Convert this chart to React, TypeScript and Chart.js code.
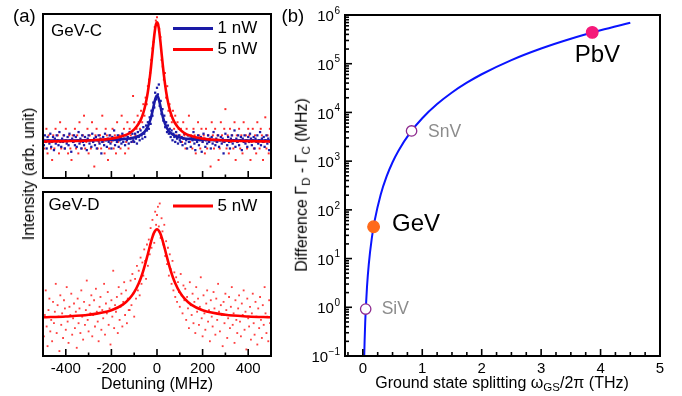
import React, { useEffect, useRef } from 'react';
import { Chart, registerables } from 'chart.js';
Chart.register(...registerables);

const FONT = '"Liberation Sans", Arial, Helvetica, sans-serif';

// ---------- Panel (a): detuning sweeps (MHz), intensity in arb. units ----------
const detuningStartMHz = -500;
const stepGevC5nW = 5;
const stepGevC1nW = 4;
const stepGevD5nW = 4;

const gevC5nWDots = [
  26, 18, 22, 30, 15, 26, 22, 18, 11, 26,
  18, 30, 22, 26, 15, 34, 18, 22, 26, 18,
  30, 22, 15, 26, 18, 11, 26, 22, 30, 18,
  26, 15, 34, 22, 18, 26, 38, 18, 22, 30,
  15, 26, 18, 34, 22, 7, 26, 30, 18, 22,
  26, 18, 38, 22, 15, 30, 26, 11, 18, 26,
  22, 30, 18, 26, 15, 34, 22, 26, 18, 38,
  26, 30, 15, 22, 34, 18, 30, 26, 22, 50,
  34, 26, 30, 38, 34, 30, 41, 34, 45, 38,
  49, 45, 56, 60, 64, 72, 79, 83, 92, 96,
  98,
  94, 91, 86, 72, 68, 60, 64, 49, 56, 41,
  45, 38, 34, 41, 30, 38, 26, 34, 30, 26,
  30, 22, 34, 26, 18, 30, 26, 38, 22, 26,
  18, 30, 26, 15, 22, 34, 26, 18, 30, 22,
  26, 15, 30, 18, 26, 22, 7, 34, 26, 18,
  30, 22, 26, 11, 18, 34, 26, 22, 30, 42,
  18, 26, 15, 30, 22, 26, 18, 34, 11, 26,
  22, 30, 18, 26, 15, 34, 22, 26, 18, 30,
  26, 11, 22, 30, 18, 26, 15, 34, 22, 18,
  30, 26, 11, 22, 37, 18, 26, 15, 30, 22,
];

const gevC1nWDots = [
  24, 20, 26, 22, 18, 25, 23, 21, 27, 19,
  22, 25, 17, 24, 21, 26, 23, 20, 28, 22,
  19, 24, 22, 26, 18, 23, 21, 25, 20, 27,
  23, 16, 24, 22, 26, 20, 25, 19, 23, 28,
  21, 24, 18, 26, 22, 20, 25, 23, 17, 24,
  26, 21, 23, 19, 27, 22, 24, 20, 25, 18,
  23, 26, 21, 24, 15, 22, 25, 20, 27, 23,
  19, 24, 22, 26, 21, 18, 25, 23, 29, 20,
  24, 22, 26, 19, 23, 25, 21, 27, 22, 24,
  20, 26, 23, 25, 21, 28, 24, 22, 27, 23,
  22, 27, 24, 21, 28, 25, 23, 29, 26, 24,
  31, 27, 25, 32, 29, 34, 30, 37, 33, 41,
  38, 46, 43, 52, 48,
  55,
  51, 57, 44, 47, 39, 42, 35, 38, 31, 34,
  28, 32, 27, 30, 25, 29, 23, 27, 25, 22,
  28, 24, 21, 26, 23,
  22, 25, 20, 24, 27, 21, 23, 18, 26, 22,
  24, 19, 25, 23, 28, 21, 17, 24, 22, 26,
  20, 23, 25, 16, 22, 27, 24, 19, 23, 21,
  26, 22, 24, 18, 25, 21, 28, 23, 20, 24,
  22, 26, 19, 23, 25, 21, 24, 15, 22, 27,
  23, 20, 25, 22, 18, 24, 26, 21, 23, 29,
  19, 24, 22, 26, 20, 23, 25, 17, 24, 22,
  26, 21, 23, 19, 25, 22, 27, 24, 20, 23,
  25, 18, 24, 22, 26, 21, 23, 28, 20, 24,
  22, 25, 19, 23, 26, 21, 24, 17, 22, 25,
];

const gevD5nWDots = [
  30, 12, 25, 40, 18, 6, 28, 35, 15, 22,
  9, 33, 20, 27, 44, 14, 31, 24, 3, 37,
  19, 26, 11, 34, 29, 16, 42, 21, 8, 30,
  25, 38, 13, 23, 32, 17, 27, 5, 35, 20,
  29, 14, 40, 24, 10, 33, 19, 28, 46, 22,
  15, 31, 26, 37, 12, 25, 34, 18, 41, 27,
  21, 9, 30, 36, 16, 28, 23, 44, 13, 32,
  26, 39, 19, 29, 7, 34, 24, 52, 17, 31,
  27, 36, 14, 42, 22, 30, 38, 18, 33, 45,
  25, 40, 20, 35, 28,
  28, 46, 31, 50, 38, 24, 47, 35, 55, 40,
  52, 37, 60, 44, 57, 49, 65, 58, 47, 68,
  55, 71, 62, 78, 66, 83, 74, 69, 88, 80,
  86,
  91, 79, 93, 72, 84, 76, 68, 80, 61, 70,
  56, 66, 49, 62, 53, 44, 58, 40, 51, 36,
  48, 33, 45, 39, 30, 50, 37, 26, 43, 34,
  41, 22, 36, 29, 17, 45, 31, 25, 38, 20,
  33, 14, 42, 27, 35, 19, 30, 48, 23, 12,
  37, 26, 16, 32, 40, 21, 28, 9, 34, 24,
  18, 39, 29, 13, 35, 22, 44, 27, 15, 31,
  25, 6, 33, 20, 38, 28, 11, 23, 36, 17,
  30, 42, 19, 26, 8, 34, 22, 14, 29, 37,
  21, 12, 32, 25, 40, 16, 27, 4, 35, 23,
  18, 30, 10, 26, 38, 20, 13, 33, 24, 7,
  29, 17, 36, 22, 11, 31, 19, 42, 26, 14,
  24, 9, 34, 20, 28,
];

const fitDetuning = [-500, -400, -300, -200, -150, -120, -100, -80, -70, -60, -50, -40, -30, -25, -20, -15, -10, -5, 0, 5, 10, 15, 20, 25, 30, 40, 50, 60, 70, 80, 100, 120, 150, 200, 300, 400, 500];
const fitGevC5nW = [22.3, 22.5, 22.9, 24.0, 25.6, 27.4, 29.6, 33.2, 35.9, 39.7, 45.1, 52.6, 63.0, 69.4, 76.2, 83.1, 89.2, 93.5, 95, 93.5, 89.2, 83.1, 76.2, 69.4, 63.0, 52.6, 45.1, 39.7, 35.9, 33.2, 29.6, 27.4, 25.6, 24.0, 22.9, 22.5, 22.3];
const fitGevC1nW = [22.9, 22.9, 23.0, 23.3, 23.7, 24.1, 24.7, 25.6, 26.4, 27.4, 29.0, 31.4, 35.1, 37.6, 40.5, 43.7, 46.9, 49.3, 50.2, 49.3, 46.9, 43.7, 40.5, 37.6, 35.1, 31.4, 29.0, 27.4, 26.4, 25.6, 24.7, 24.1, 23.7, 23.3, 23.0, 22.9, 22.9];
const fitGevD5nW = [23.6, 24.1, 25.1, 27.9, 31.3, 35.1, 38.9, 44.4, 47.9, 52.1, 56.9, 62.2, 67.6, 70.2, 72.5, 74.5, 75.9, 76.9, 77.2, 76.9, 75.9, 74.5, 72.5, 70.2, 67.6, 62.2, 56.9, 52.1, 47.9, 44.4, 38.9, 35.1, 31.3, 27.9, 25.1, 24.1, 23.6];

const detuningMajorTicks = [-400, -200, 0, 200, 400];
const detuningMinorTicks = [-300, -100, 100, 300];
const detuningTickLabels = ['-400', '-200', '0', '200', '400'];

// ---------- Panel (b): Γ_D − Γ_C versus ground-state splitting ----------
const splittingTHz = [0.02, 0.024, 0.03, 0.04, 0.05, 0.07, 0.1, 0.15, 0.2, 0.3, 0.4, 0.5, 0.6, 0.8, 1.0, 1.25, 1.5, 1.75, 2.0, 2.5, 3.0, 3.5, 4.0, 4.5];
const differenceMHz = [0.061, 0.105, 0.205, 0.486, 0.95, 2.61, 7.6, 25.6, 60.8, 205, 486, 950, 1642, 3891, 7600, 14840, 25650, 40730, 60800, 118750, 205200, 325850, 486400, 692550];

const centerNames = ['SiV', 'GeV', 'SnV', 'PbV'];
const centerSplittingTHz = [0.048, 0.181, 0.82, 3.86];
const centerDifferenceMHz = [0.92, 45, 4170, 440000];

const splittingMajorTicks = [0, 1, 2, 3, 4, 5];
const splittingMinorTicks = [-0.25, 0.25, 0.5, 0.75, 1.25, 1.5, 1.75, 2.25, 2.5, 2.75, 3.25, 3.5, 3.75, 4.25, 4.5, 4.75];
const splittingTickLabels = ['0', '1', '2', '3', '4', '5'];
const differenceDecades = [0.1, 1, 10, 100, 1e3, 1e4, 1e5, 1e6];
const differenceExponents = ['\u22121', '0', '1', '2', '3', '4', '5', '6'];
const minorMultipliers = [2, 3, 4, 5, 6, 7, 8, 9];

// ---------- styles ----------
const RED = '#ff0000';
const NAVY = '#1a1aa6';
const CURVE_BLUE = '#0a14ff';

const toPoints = (start: number, step: number, ys: number[]) => ys.map((y, i) => ({ x: start + step * i, y }));
const zipPoints = (xs: number[], ys: number[]) => xs.map((x, i) => ({ x, y: ys[i] }));

const overlayPlugin = {
  id: 'overlay',
  afterDraw(chart: any, _args: any, opts: any) {
    const { ctx, chartArea: a, scales } = chart;
    ctx.save();
    ctx.strokeStyle = '#000';
    ctx.lineWidth = 2;
    ctx.strokeRect(a.left, a.top, a.right - a.left, a.bottom - a.top);
    (opts.ticks || []).forEach((t: any) => {
      const sc = scales[t.axis];
      ctx.lineWidth = 1.6;
      ctx.strokeStyle = '#000';
      t.values.forEach((v: number) => {
        const p = sc.getPixelForValue(v);
        ctx.beginPath();
        if (t.axis === 'x') {
          ctx.moveTo(p, a.bottom);
          ctx.lineTo(p, a.bottom - t.len);
        } else {
          ctx.moveTo(a.left, p);
          ctx.lineTo(a.left + t.len, p);
        }
        ctx.stroke();
      });
    });
    (opts.lines || []).forEach((l: any) => {
      ctx.strokeStyle = l.color;
      ctx.lineWidth = l.width;
      ctx.beginPath();
      ctx.moveTo(a.left + l.x1, a.top + l.y);
      ctx.lineTo(a.left + l.x2, a.top + l.y);
      ctx.stroke();
    });
    ctx.textBaseline = 'middle';
    (opts.texts || []).forEach((t: any) => {
      ctx.font = t.font;
      ctx.fillStyle = t.color;
      ctx.textAlign = t.align || 'left';
      let x = a.left + t.x;
      let y = a.top + t.y;
      if (t.dataX !== undefined) {
        x = scales.x.getPixelForValue(t.dataX) + t.x;
        y = scales.y.getPixelForValue(t.dataY) + t.y;
      }
      ctx.fillText(t.text, x, y);
    });
    if (opts.logLabels) {
      const L = opts.logLabels;
      L.values.forEach((v: number, i: number) => {
        const py = scales.y.getPixelForValue(v);
        const xr = a.left - 5;
        ctx.fillStyle = '#000';
        ctx.textAlign = 'right';
        ctx.font = L.expFont;
        const ew = ctx.measureText(L.exps[i]).width;
        ctx.fillText(L.exps[i], xr, py - 4);
        ctx.font = L.baseFont;
        ctx.fillText('10', xr - ew - 0.5, py + 2);
      });
    }
    ctx.restore();
  },
};

const noAxis = { display: false };

const xTickAxis = (min: number, max: number, values: number[], labels: string[]) => ({
  type: 'linear',
  min,
  max,
  grid: { display: false, drawTicks: false },
  border: { display: false },
  ticks: {
    font: { family: FONT, size: 15 },
    color: '#000',
    padding: 4,
    autoSkip: false,
    maxRotation: 0,
    callback: (_v: any, i: number) => labels[i],
  },
  afterBuildTicks: (s: any) => {
    s.ticks = values.map((v) => ({ value: v }));
  },
  afterFit: (s: any) => {
    s.height = 40;
    s.paddingLeft = 0;
    s.paddingRight = 0;
  },
});

const baseOptions = (padding: any, scales: any, overlay: any) => ({
  responsive: false,
  maintainAspectRatio: false,
  animation: false,
  events: [],
  layout: { padding },
  scales,
  plugins: { legend: { display: false }, tooltip: { enabled: false }, overlay },
});

export default function App() {
  const c1 = useRef<HTMLCanvasElement>(null);
  const c2 = useRef<HTMLCanvasElement>(null);
  const c3 = useRef<HTMLCanvasElement>(null);

  useEffect(() => {
    document.body.style.margin = '0';
    const charts: Chart[] = [];
    const detTicks = [
      { axis: 'x', values: detuningMajorTicks, len: 7 },
      { axis: 'x', values: detuningMinorTicks, len: 3.5 },
    ];

    charts.push(
      new Chart(c1.current as any, {
        type: 'scatter',
        data: {
          datasets: [
            { data: zipPoints(fitDetuning, fitGevC5nW), showLine: true, borderColor: RED, borderWidth: 2.6, pointRadius: 0, cubicInterpolationMode: 'monotone', order: 0 },
            { data: zipPoints(fitDetuning, fitGevC1nW), showLine: true, borderColor: NAVY, borderWidth: 2.6, pointRadius: 0, cubicInterpolationMode: 'monotone', order: 1 },
            { data: toPoints(detuningStartMHz, stepGevC1nW, gevC1nWDots), pointStyle: 'rect', pointRadius: 1.6, backgroundColor: NAVY, borderWidth: 0, order: 2 },
            { data: toPoints(detuningStartMHz, stepGevC5nW, gevC5nWDots), pointStyle: 'rect', pointRadius: 1.4, backgroundColor: '#ff2a2a', borderWidth: 0, order: 3 },
          ],
        } as any,
        options: baseOptions(
          { left: 43, top: 14, right: 9, bottom: 8 },
          { x: { ...noAxis, type: 'linear', min: -500, max: 500 }, y: { ...noAxis, type: 'linear', min: 0, max: 100 } },
          {
            ticks: detTicks,
            lines: [
              { x1: 130, x2: 170, y: 14.5, color: NAVY, width: 3 },
              { x1: 130, x2: 170, y: 35.5, color: RED, width: 3 },
            ],
            texts: [
              { text: 'GeV-C', x: 8, y: 17.5, font: `17px ${FONT}`, color: '#000' },
              { text: '1 nW', x: 174.5, y: 14.5, font: `17px ${FONT}`, color: '#000' },
              { text: '5 nW', x: 174.5, y: 35.5, font: `17px ${FONT}`, color: '#000' },
            ],
          }
        ) as any,
        plugins: [overlayPlugin],
      })
    );

    charts.push(
      new Chart(c2.current as any, {
        type: 'scatter',
        data: {
          datasets: [
            { data: zipPoints(fitDetuning, fitGevD5nW), showLine: true, borderColor: RED, borderWidth: 2.6, pointRadius: 0, cubicInterpolationMode: 'monotone', order: 0 },
            { data: toPoints(detuningStartMHz, stepGevD5nW, gevD5nWDots), pointStyle: 'rect', pointRadius: 1.3, backgroundColor: 'rgba(255,30,30,0.85)', borderWidth: 0, order: 1 },
          ],
        } as any,
        options: baseOptions(
          { left: 43, top: 6, right: 9, bottom: 0 },
          { x: xTickAxis(-500, 500, detuningMajorTicks, detuningTickLabels), y: { ...noAxis, type: 'linear', min: 0, max: 100 } },
          {
            ticks: detTicks,
            lines: [{ x1: 130, x2: 170, y: 14, color: RED, width: 3 }],
            texts: [
              { text: 'GeV-D', x: 5.5, y: 13.5, font: `17px ${FONT}`, color: '#000' },
              { text: '5 nW', x: 174.5, y: 14, font: `17px ${FONT}`, color: '#000' },
            ],
          }
        ) as any,
        plugins: [overlayPlugin],
      })
    );

    const minorDiff: number[] = [];
    differenceDecades.slice(0, -1).forEach((d) => minorMultipliers.forEach((m) => minorDiff.push(d * m)));
    const open = [true, false, true, false];
    const fills = ['#ffffff', '#ff6a1a', '#ffffff', '#f5197a'];
    const edges = ['#8e2a8e', '#ff6a1a', '#8e2a8e', '#f5197a'];
    const labelStyle = [
      { x: 16, y: 0, font: `17.5px ${FONT}`, color: '#8c8c8c' },
      { x: 18.5, y: -2.5, font: `24px ${FONT}`, color: '#000' },
      { x: 16.5, y: 1.5, font: `17.5px ${FONT}`, color: '#8c8c8c' },
      { x: -17.5, y: 23, font: `24px ${FONT}`, color: '#000' },
    ];

    charts.push(
      new Chart(c3.current as any, {
        type: 'scatter',
        data: {
          datasets: [
            {
              data: zipPoints(centerSplittingTHz, centerDifferenceMHz),
              pointRadius: open.map((o) => (o ? 5.2 : 5.8)),
              pointBackgroundColor: fills,
              pointBorderColor: edges,
              pointBorderWidth: 1.3,
              order: 0,
              clip: false,
            },
            { data: zipPoints(splittingTHz, differenceMHz), showLine: true, borderColor: CURVE_BLUE, borderWidth: 2, pointRadius: 0, cubicInterpolationMode: 'monotone', order: 1 },
          ],
        } as any,
        options: baseOptions(
          { left: 65, top: 15, right: 22, bottom: 0 },
          {
            x: xTickAxis(-0.3, 5, splittingMajorTicks, splittingTickLabels),
            y: { ...noAxis, type: 'logarithmic', min: 0.1, max: 1e6 },
          },
          {
            ticks: [
              { axis: 'x', values: splittingMajorTicks, len: 7 },
              { axis: 'x', values: splittingMinorTicks, len: 4 },
              { axis: 'y', values: differenceDecades, len: 7 },
              { axis: 'y', values: minorDiff, len: 4 },
            ],
            texts: centerNames.map((n, i) => ({ text: n, dataX: centerSplittingTHz[i], dataY: centerDifferenceMHz[i], ...labelStyle[i] })),
            logLabels: { values: differenceDecades, exps: differenceExponents, baseFont: `15px ${FONT}`, expFont: `10px ${FONT}` },
          }
        ) as any,
        plugins: [overlayPlugin],
      })
    );

    return () => charts.forEach((c) => c.destroy());
  }, []);

  const abs = (s: any) => ({ position: 'absolute' as const, whiteSpace: 'nowrap' as const, lineHeight: 1, ...s });
  const rot = (cx: number, cy: number, size: number) =>
    abs({ left: cx, top: cy, fontSize: size, transform: 'translate(-50%, -50%) rotate(-90deg)' });
  const sub = { fontSize: '72%', verticalAlign: '-0.25em' };

  return (
    <div style={{ position: 'relative', width: 682, height: 396, overflow: 'hidden', background: '#fff', fontFamily: FONT, color: '#000' }}>
      <canvas ref={c1} width={280} height={186} style={{ position: 'absolute', left: 0, top: 0 }} />
      <canvas ref={c2} width={280} height={210} style={{ position: 'absolute', left: 0, top: 186 }} />
      <canvas ref={c3} width={402} height={396} style={{ position: 'absolute', left: 280, top: 0 }} />
      <div style={abs({ left: 13, top: 7, fontSize: 18.5 })}>(a)</div>
      <div style={abs({ left: 281.5, top: 7, fontSize: 18.5 })}>(b)</div>
      <div style={rot(28.5, 174, 16)}>Intensity (arb. unit)</div>
      <div style={abs({ left: 157, top: 384, fontSize: 16, transform: 'translate(-50%, -50%)' })}>Detuning (MHz)</div>
      <div style={rot(303, 185, 16)}>
        Difference Γ<span style={sub}>D</span> - Γ<span style={sub}>C</span> (MHz)
      </div>
      <div style={abs({ left: 502, top: 384, fontSize: 16, transform: 'translate(-50%, -50%)' })}>
        Ground state splitting ω<span style={sub}>GS</span>/2π (THz)
      </div>
    </div>
  );
}
